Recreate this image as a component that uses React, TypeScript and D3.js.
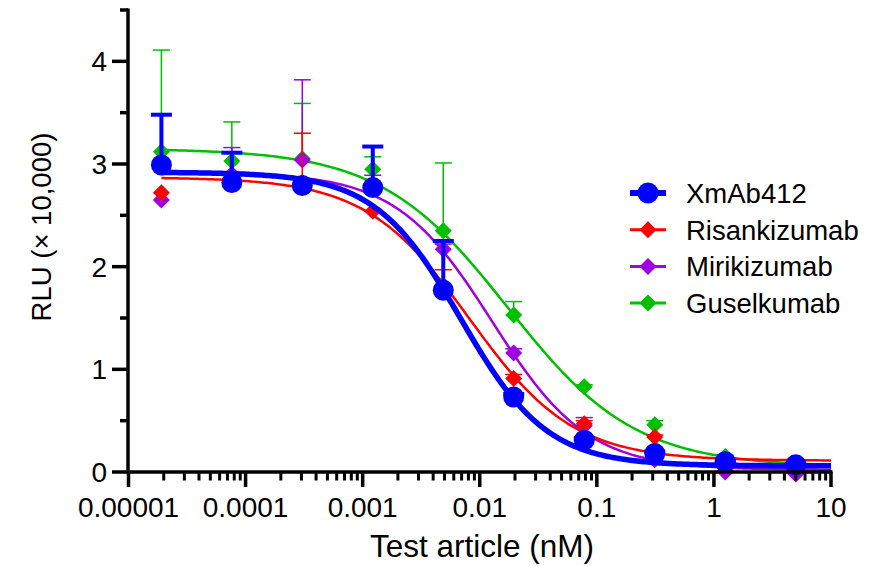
import React from "react";
import * as d3 from "d3";

const conc = [0.0000191, 0.0000763, 0.000305, 0.00122, 0.00488, 0.0195, 0.0781, 0.3125, 1.25, 5];
const xTickValues = [0.00001, 0.0001, 0.001, 0.01, 0.1, 1, 10];
const xTickLabels = ["0.00001", "0.0001", "0.001", "0.01", "0.1", "1", "10"];
const yTickValues = [0, 1, 2, 3, 4];

const seriesNames = ["Guselkumab", "Mirikizumab", "Risankizumab", "XmAb412"];
const legendOrder = ["XmAb412", "Risankizumab", "Mirikizumab", "Guselkumab"];

const xmabMean = [2.99, 2.82, 2.79, 2.77, 1.77, 0.73, 0.31, 0.18, 0.1, 0.07];
const xmabUpper = [3.48, 3.11, 2.79, 3.17, 2.25, 0.76, 0.33, 0.2, 0.11, 0.08];
const risaMean = [2.72, 2.86, 2.82, 2.54, 1.82, 0.91, 0.47, 0.34, 0.1, 0.08];
const risaUpper = [2.72, 2.86, 3.3, 2.54, 1.97, 0.95, 0.5, 0.36, 0.11, 0.09];
const miriMean = [2.65, 2.9, 3.04, 2.78, 2.17, 1.16, 0.45, 0.12, 0.0, -0.02];
const miriUpper = [2.65, 3.16, 3.82, 2.89, 2.22, 1.2, 0.53, 0.14, 0.01, 0.0];
const guseMean = [3.12, 3.03, 3.05, 2.95, 2.35, 1.53, 0.83, 0.46, 0.15, 0.06];
const guseUpper = [4.11, 3.41, 3.59, 3.07, 3.01, 1.66, 0.85, 0.5, 0.16, 0.07];

// 4PL fit parameters: [top, bottom, IC50 (nM), hill]
const xmabFit = [2.92, 0.06, 0.0069, 1.18];
const risaFit = [2.87, 0.11, 0.0082, 0.98];
const miriFit = [2.92, 0.02, 0.0127, 1.06];
const guseFit = [3.15, 0.05, 0.0174, 0.8];

const colors: Record<string, string> = {
  XmAb412: "#0000FF",
  Risankizumab: "#FF0000",
  Mirikizumab: "#A000E0",
  Guselkumab: "#00BF00",
};

const dataByName: Record<string, { mean: number[]; upper: number[]; fit: number[] }> = {
  XmAb412: { mean: xmabMean, upper: xmabUpper, fit: xmabFit },
  Risankizumab: { mean: risaMean, upper: risaUpper, fit: risaFit },
  Mirikizumab: { mean: miriMean, upper: miriUpper, fit: miriFit },
  Guselkumab: { mean: guseMean, upper: guseUpper, fit: guseFit },
};

const FONT = "Arial, 'Liberation Sans', Helvetica, sans-serif";

export default function App() {
  const W = 890, H = 566;
  const x = d3.scaleLog().domain([0.00001, 10]).range([128.5, 831]);
  const y = d3.scaleLinear().domain([0, 4.5]).range([472, 10]);

  const fourPL = (p: number[], c: number) => p[1] + (p[0] - p[1]) / (1 + Math.pow(c / p[2], p[3]));

  const samples = d3.range(0, 301).map((i) => Math.pow(10, Math.log10(conc[0]) + (i / 300) * (1 - Math.log10(conc[0]))));

  const minorX: number[] = [];
  for (let e = -5; e < 1; e++) {
    for (let m = 2; m <= 9; m++) minorX.push(m * Math.pow(10, e));
  }
  const minorY = [0.5, 1.5, 2.5, 3.5, 4.5];

  const diamond = (cx: number, cy: number, r: number) =>
    `M${cx},${cy - r}L${cx + r},${cy}L${cx},${cy + r}L${cx - r},${cy}Z`;

  const axisColor = "#000";

  return (
    <svg width={W} height={H} style={{ position: "absolute", left: 0, top: 0, background: "#fff" }}>
      <rect x={0} y={0} width={W} height={H} fill="#fff" />
      {/* series */}
      {seriesNames.map((name) => {
        const s = dataByName[name];
        const col = colors[name];
        const isBlue = name === "XmAb412";
        const lw = isBlue ? 5.5 : 2.5;
        const ew = isBlue ? 4 : 1.5;
        const capHalf = isBlue ? 10.5 : 8.5;
        const path = d3
          .line<number>()
          .x((c) => x(c))
          .y((c) => y(fourPL(s.fit, c)))(samples);
        return (
          <g key={name}>
            {conc.map((c, i) =>
              s.upper[i] > s.mean[i] + 0.005 ? (
                <g key={i} stroke={col} strokeWidth={ew} fill="none">
                  <line x1={x(c)} x2={x(c)} y1={y(s.mean[i])} y2={y(s.upper[i])} />
                  <line x1={x(c) - capHalf} x2={x(c) + capHalf} y1={y(s.upper[i])} y2={y(s.upper[i])} />
                </g>
              ) : null
            )}
            <path d={path || ""} fill="none" stroke={col} strokeWidth={lw} />
            {conc.map((c, i) =>
              isBlue ? (
                <circle key={i} cx={x(c)} cy={y(s.mean[i])} r={10.5} fill={col} />
              ) : (
                <path key={i} d={diamond(x(c), y(s.mean[i]), 8.5)} fill={col} />
              )
            )}
          </g>
        );
      })}

      {/* axes */}
      <g stroke={axisColor} strokeLinecap="butt">
        <line x1={128} x2={128} y1={y(4.5) - 1.5} y2={473.5} strokeWidth={3.5} />
        <line x1={126.5} x2={x(10) + 1.5} y1={472} y2={472} strokeWidth={3.5} />
        {yTickValues.map((v) => (
          <line key={"yt" + v} x1={112} x2={128} y1={y(v)} y2={y(v)} strokeWidth={3.5} />
        ))}
        {minorY.map((v) => (
          <line key={"ym" + v} x1={120} x2={128} y1={y(v)} y2={y(v)} strokeWidth={3.5} />
        ))}
        {xTickValues.map((v) => (
          <line key={"xt" + v} x1={x(v)} x2={x(v)} y1={472} y2={487} strokeWidth={3.5} />
        ))}
        {minorX.map((v, i) => (
          <line key={"xm" + i} x1={x(v)} x2={x(v)} y1={472} y2={480.5} strokeWidth={3} />
        ))}
      </g>

      {/* tick labels */}
      <g fontFamily={FONT} fontSize={28} fill="#000">
        {yTickValues.map((v) => (
          <text key={"yl" + v} x={107} y={y(v) + 10} textAnchor="end">
            {String(v)}
          </text>
        ))}
        {xTickValues.map((v, i) => (
          <text key={"xl" + v} x={x(v)} y={517} textAnchor="middle">
            {xTickLabels[i]}
          </text>
        ))}
      </g>

      {/* axis titles */}
      <text x={482} y={557} textAnchor="middle" fontFamily={FONT} fontSize={31.5} fill="#000">
        Test article (nM)
      </text>
      <text
        transform={`translate(51, 227) rotate(-90)`}
        textAnchor="middle"
        fontFamily={FONT}
        fontSize={27.5}
        fill="#000"
      >
        RLU (× 10,000)
      </text>

      {/* legend */}
      {legendOrder.map((name, i) => {
        const cy = 193 + i * 36.7;
        const col = colors[name];
        const isBlue = name === "XmAb412";
        return (
          <g key={"lg" + name}>
            <line x1={630} x2={666} y1={cy} y2={cy} stroke={col} strokeWidth={isBlue ? 6 : 3} />
            {isBlue ? (
              <circle cx={648} cy={cy} r={10.5} fill={col} />
            ) : (
              <path d={diamond(648, cy, 8.5)} fill={col} />
            )}
            <text x={686} y={cy + 10} fontFamily={FONT} fontSize={27.5} fill="#000">
              {name}
            </text>
          </g>
        );
      })}
    </svg>
  );
}
